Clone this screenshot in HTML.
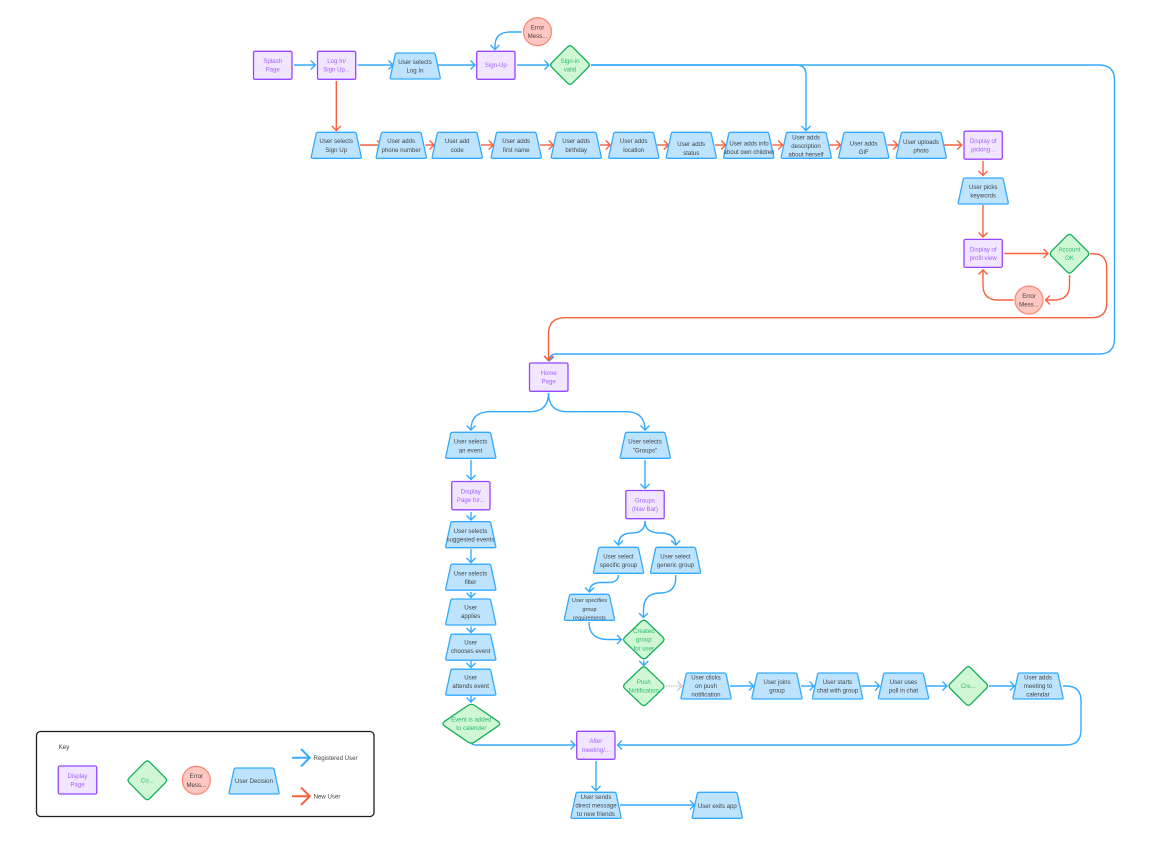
<!DOCTYPE html>
<html>
<head>
<meta charset="utf-8">
<style>
html,body{margin:0;padding:0;background:#fff;width:1168px;height:857px;overflow:hidden}
svg{display:block}
text{font-family:"Liberation Sans",sans-serif;font-size:6.1px;text-anchor:middle;fill:#444}
.t use{fill:#bde3ff;stroke:#33aaff;stroke-width:1.3}
.r rect{fill:#f1e5ff;stroke:#9747ff;stroke-width:1.3}
.d use{fill:#cff7d3;stroke:#14ae5c;stroke-width:1.3}
.c circle{fill:#ffc7c2;stroke:#fb8a78;stroke-width:1.3}
.pt text{fill:#a45fff}
.gt text{fill:#2fb96f}
.b path{fill:none;stroke:#33aaff;stroke-width:1.4;marker-end:url(#mb)}
.o path{fill:none;stroke:#f9603f;stroke-width:1.4;marker-end:url(#mr)}
</style>
</head>
<body>
<svg width="1168" height="857" viewBox="0 0 1168 857" xmlns="http://www.w3.org/2000/svg">
<defs>
<marker id="mb" markerUnits="userSpaceOnUse" markerWidth="14" markerHeight="14" refX="8" refY="7" orient="auto" overflow="visible"><path d="M3.5 2.5L8 7L3.5 11.5" fill="none" stroke="#33aaff" stroke-width="1.4"/></marker>
<marker id="mr" markerUnits="userSpaceOnUse" markerWidth="14" markerHeight="14" refX="8" refY="7" orient="auto" overflow="visible"><path d="M3.5 2.5L8 7L3.5 11.5" fill="none" stroke="#f9603f" stroke-width="1.4"/></marker>
<marker id="mg" markerUnits="userSpaceOnUse" markerWidth="14" markerHeight="14" refX="8" refY="7" orient="auto" overflow="visible"><path d="M3.5 2.5L8 7L3.5 11.5" fill="none" stroke="#c4c4c4" stroke-width="1.3"/></marker>
<path id="tz" d="M1.5 26Q-0.3 26 0.3 24.3L5.2 1.5Q5.6 0 7 0H43.5Q44.9 0 45.3 1.5L50.2 24.3Q50.8 26 49 26Z"/>
<path id="dm" vector-effect="non-scaling-stroke" d="M-2.5 -18.1Q0 -20.6 2.5 -18.1L18 -2.5Q20.5 0 18 2.5L2.5 18.1Q0 20.6 -2.5 18.1L-18 2.5Q-20.5 0 -18 -2.5Z"/>
</defs>

<!-- connectors blue -->
<g class="b">
<path d="M294 65H315.3"/>
<path d="M357.7 65H393"/>
<path d="M437 65H475"/>
<path d="M517 65H549"/>
<path d="M521.7 32H510Q495 32 495 46V49.5"/>
<path d="M591 65H796Q806 65 806 75V130.5"/>
<path d="M591 65H1099Q1114.5 65 1114.5 80V339Q1114.5 354 1099 354H556Q549.5 354 549 361"/>
<path d="M548.5 393Q548.5 411.7 530 411.7H490Q471 411.7 471 430"/>
<path d="M548.5 393Q548.5 411.7 567 411.7H626Q645 411.7 645 430"/>
<path d="M471 460V479.5"/>
<path d="M645 460V488.5"/>
<path d="M471 512V520"/>
<path d="M471 549V562.5"/>
<path d="M471 592V597.5"/>
<path d="M471 626.5V632.5"/>
<path d="M471 661V667.5"/>
<path d="M471 696V702"/>
<path d="M645 521Q645 533 632 533Q618.5 533 618.5 545"/>
<path d="M645 521Q645 533 660 533Q675.7 533 675.7 545"/>
<path d="M618.5 575Q618.5 582.5 608 582.5H600Q589.5 583 589.5 592"/>
<path d="M675.7 575V578Q675.7 593 660 593Q643.5 593 643.5 610V617.5"/>
<path d="M589 622Q589 639.5 608 639.5H621.5"/>
<path d="M643.8 660.5V665.5"/>
<path d="M730 686H753.5"/>
<path d="M801 686H814"/>
<path d="M861 686H879.5"/>
<path d="M927 686H947"/>
<path d="M989 686H1014.5"/>
<path d="M1063 686H1066Q1081 686 1081 701V730Q1081 745 1066 745H617.5"/>
<path d="M471.5 743.5Q473 745 476 745H575"/>
<path d="M596 761V790.5"/>
<path d="M620 805H694.5"/>
</g>
<path d="M666 686H682" fill="none" stroke="#c4c4c4" stroke-width="1.3" stroke-dasharray="1.5 1" marker-end="url(#mg)"/>

<!-- connectors red -->
<g class="o">
<path d="M336.3 81V130.5"/>
<path d="M360 145H381.5"/>
<path d="M425.5 145H434"/>
<path d="M481 145H493.3"/>
<path d="M540 145H553.3"/>
<path d="M600 145H610.3"/>
<path d="M657 145H668.3"/>
<path d="M715 145H725.7"/>
<path d="M772.3 145H782.7"/>
<path d="M829.3 145H840.7"/>
<path d="M887.3 145H897.7"/>
<path d="M944 145H961.7"/>
<path d="M983 161V175.5"/>
<path d="M983 205V237"/>
<path d="M1004.3 253.5H1048"/>
<path d="M1069.5 275V285Q1069.5 300 1054 300H1045.5"/>
<path d="M1013.5 300H998Q983 300 983 285V270"/>
<path d="M1090 253.7H1093Q1106.7 253.7 1106.7 268V303Q1106.7 317.7 1092 317.7H565Q548.5 317.7 548.5 334V360.5"/>
</g>

<!-- key -->
<rect x="36.5" y="731.5" width="337.5" height="85" rx="4" fill="#fff" stroke="#1e1e1e" stroke-width="1.3"/>
<text x="64" y="749" style="fill:#333">Key</text>
<path d="M292 757.7H309.5" fill="none" stroke="#33aaff" stroke-width="2"/>
<path d="M301 749L309.8 757.7L301 766.4" fill="none" stroke="#33aaff" stroke-width="2"/>
<path d="M292 796.3H309.5" fill="none" stroke="#f9603f" stroke-width="2"/>
<path d="M301 787.6L309.8 796.3L301 805" fill="none" stroke="#f9603f" stroke-width="2"/>
<text x="335.5" y="759.9">Registered User</text>
<text x="327" y="798.5">New User</text>

<!-- rects -->
<g class="r">
<rect x="253.5" y="51.3" width="38.5" height="28" rx="1.5"/>
<rect x="317.5" y="51.3" width="38.2" height="28" rx="1.5"/>
<rect x="476.7" y="51.3" width="38.3" height="28" rx="1.5"/>
<rect x="964" y="131.2" width="38.3" height="28" rx="1.5"/>
<rect x="964" y="239.4" width="38.3" height="28" rx="1.5"/>
<rect x="529.5" y="363" width="38.5" height="28.3" rx="1.5"/>
<rect x="451.7" y="481.5" width="38.3" height="28.3" rx="1.5"/>
<rect x="625.8" y="490.5" width="38.4" height="28.2" rx="1.5"/>
<rect x="576.7" y="731.3" width="38.3" height="28" rx="1.5"/>
<rect x="58.3" y="766" width="38.4" height="28" rx="1.5"/>
</g>

<!-- trapezoids -->
<g class="t">
<use href="#tz" x="390" y="53"/>
<use href="#tz" x="311" y="132.3"/>
<use href="#tz" x="376" y="132.3"/>
<use href="#tz" x="432" y="132.3"/>
<use href="#tz" x="491" y="132.3"/>
<use href="#tz" x="551" y="132.3"/>
<use href="#tz" x="608.5" y="132.3"/>
<use href="#tz" x="666" y="132.3"/>
<use href="#tz" x="723.5" y="132.3"/>
<use href="#tz" x="781" y="132.3"/>
<use href="#tz" x="838.5" y="132.3"/>
<use href="#tz" x="896" y="132.3"/>
<use href="#tz" x="958" y="178"/>
<use href="#tz" x="445.5" y="432.3"/>
<use href="#tz" x="620" y="432.3"/>
<use href="#tz" x="445.5" y="521.7"/>
<use href="#tz" x="445.5" y="564.2"/>
<use href="#tz" x="445.5" y="599"/>
<use href="#tz" x="445.5" y="634.2"/>
<use href="#tz" x="445.5" y="669.2"/>
<use href="#tz" x="593.3" y="547.3"/>
<use href="#tz" x="650.3" y="547.3"/>
<use href="#tz" x="564.2" y="594.3"/>
<use href="#tz" x="680.8" y="673"/>
<use href="#tz" x="751.7" y="673"/>
<use href="#tz" x="812.3" y="673"/>
<use href="#tz" x="878.3" y="673"/>
<use href="#tz" x="1012.8" y="673"/>
<use href="#tz" x="570.8" y="792.3"/>
<use href="#tz" x="692" y="792.3"/>
<use href="#tz" x="228.8" y="768"/>
</g>

<!-- diamonds -->
<g class="d">
<use href="#dm" transform="translate(570 65)"/>
<use href="#dm" transform="translate(1069.5 253.7)"/>
<use href="#dm" transform="translate(643.8 639.5) scale(1.05 1)"/>
<use href="#dm" transform="translate(643.8 686.2) scale(1.05 1)"/>
<use href="#dm" transform="translate(968.3 686)"/>
<use href="#dm" transform="translate(471.3 723.7) scale(1.47 1)"/>
<use href="#dm" transform="translate(147.3 780.3)"/>
</g>

<!-- circles -->
<g class="c">
<circle cx="537.5" cy="31.7" r="14"/>
<circle cx="1029" cy="300" r="14"/>
<circle cx="196.3" cy="780.3" r="14"/>
</g>

<!-- purple text -->
<g class="pt">
<text x="272.7" y="62.9">Splash<tspan x="272.7" dy="8.6">Page</tspan></text>
<text x="336.6" y="62.9">Log In/<tspan x="336.6" dy="8.6">Sign Up...</tspan></text>
<text x="495.8" y="67.2">Sign-Up</text>
<text x="983.2" y="143.1">Display of<tspan x="983.2" dy="8.6">picking...</tspan></text>
<text x="983.2" y="251.3">Display of<tspan x="983.2" dy="8.6">profil view</tspan></text>
<text x="548.7" y="375">Home<tspan x="548.7" dy="8.6">Page</tspan></text>
<text x="470.8" y="493.5">Display<tspan x="470.8" dy="8.6">Page for...</tspan></text>
<text x="645" y="502.5">Groups<tspan x="645" dy="8.6">(Nav Bar)</tspan></text>
<text x="595.8" y="743.2">After<tspan x="595.8" dy="8.6">meeting/...</tspan></text>
<text x="77.5" y="777.9">Display<tspan x="77.5" dy="8.6">Page</tspan></text>
</g>

<!-- green text -->
<g class="gt">
<text x="570" y="62.9">Sign-in<tspan x="570" dy="8.6">valid</tspan></text>
<text x="1069.5" y="251.6">Account<tspan x="1069.5" dy="8.6">OK</tspan></text>
<text x="643.8" y="633.1">Created<tspan x="643.8" dy="8.6">group</tspan><tspan x="643.8" dy="8.6">for user</tspan></text>
<text x="643.8" y="684.1">Push<tspan x="643.8" dy="8.6">Notification</tspan></text>
<text x="968.3" y="688.2">Cre...</text>
<text x="471.3" y="721.6">Event is added<tspan x="471.3" dy="8.6">to calender</tspan></text>
<text x="147.3" y="782.5">Co...</text>
</g>

<!-- error text -->
<text x="537.5" y="29.6">Error<tspan x="537.5" dy="8.6">Mess...</tspan></text>
<text x="1029" y="297.9">Error<tspan x="1029" dy="8.6">Mess...</tspan></text>
<text x="196.3" y="778.2">Error<tspan x="196.3" dy="8.6">Mess...</tspan></text>

<!-- decision text -->
<text x="415" y="63.9">User selects<tspan x="415" dy="8.6">Log In</tspan></text>
<text x="336.2" y="143.2">User selects<tspan x="336.2" dy="8.6">Sign Up</tspan></text>
<text x="401.2" y="143.2">User adds<tspan x="401.2" dy="8.6">phone number</tspan></text>
<text x="457.2" y="143.2">User add<tspan x="457.2" dy="8.6">code</tspan></text>
<text x="516.2" y="143.2">User adds<tspan x="516.2" dy="8.6">first name</tspan></text>
<text x="576.2" y="143.2">User adds<tspan x="576.2" dy="8.6">birthday</tspan></text>
<text x="633.7" y="143.2">User adds<tspan x="633.7" dy="8.6">location</tspan></text>
<text x="691.2" y="146.2">User adds<tspan x="691.2" dy="8.6">status</tspan></text>
<text x="749" y="145.3">User adds info<tspan x="749" dy="8.6">about own children</tspan></text>
<text x="806" y="139.4">User adds<tspan x="806" dy="8.6">description</tspan><tspan x="806" dy="8.6">about herself</tspan></text>
<text x="863.7" y="145.3">User adds<tspan x="863.7" dy="8.6">GIF</tspan></text>
<text x="921" y="144">User uploads<tspan x="921" dy="8.6">photo</tspan></text>
<text x="983.2" y="188.8">User picks<tspan x="983.2" dy="8.6">keywords</tspan></text>
<text x="470.5" y="443.7">User selects<tspan x="470.5" dy="8.6">an event</tspan></text>
<text x="645" y="443.7">User selects<tspan x="645" dy="8.6">"Groups"</tspan></text>
<text x="470.5" y="533">User selects<tspan x="470.5" dy="8.6">suggested events</tspan></text>
<text x="470.5" y="575.5">User selects<tspan x="470.5" dy="8.6">filter</tspan></text>
<text x="470.7" y="609.3">User<tspan x="470.7" dy="8.6">applies</tspan></text>
<text x="470.7" y="644.3">User<tspan x="470.7" dy="8.6">chooses event</tspan></text>
<text x="470.7" y="679.3">User<tspan x="470.7" dy="8.6">attends event</tspan></text>
<text x="618.5" y="558.5">User select<tspan x="618.5" dy="8.6">specific group</tspan></text>
<text x="675.5" y="558.5">User select<tspan x="675.5" dy="8.6">generic group</tspan></text>
<text x="589.5" y="602.2" style="font-size:5.6px">User specifies<tspan x="589.5" dy="8.6">group</tspan><tspan x="589.5" dy="8.6">requirements</tspan></text>
<text x="706" y="679.5">User clicks<tspan x="706" dy="8.6">on push</tspan><tspan x="706" dy="8.6">notification</tspan></text>
<text x="777" y="683.9">User joins<tspan x="777" dy="8.6">group</tspan></text>
<text x="837.5" y="683.9">User starts<tspan x="837.5" dy="8.6">chat with group</tspan></text>
<text x="903.5" y="683.9">User uses<tspan x="903.5" dy="8.6">poll in chat</tspan></text>
<text x="1038" y="679.5">User adds<tspan x="1038" dy="8.6">meeting to</tspan><tspan x="1038" dy="8.6">calendar</tspan></text>
<text x="596" y="799">User sends<tspan x="596" dy="8.6">direct message</tspan><tspan x="596" dy="8.6">to new friends</tspan></text>
<text x="717.3" y="808">User exits app</text>
<text x="254" y="783.2">User Decision</text>
</svg>
</body>
</html>
